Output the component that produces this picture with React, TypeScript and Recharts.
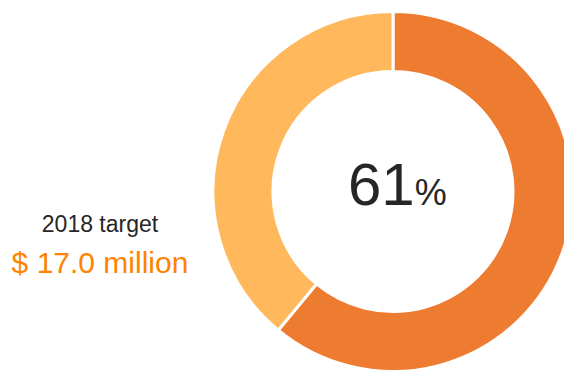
import React from 'react';
import { PieChart, Pie, Cell } from 'recharts';

const categories = ['Achieved', 'Remaining'];
const values = [61, 39];
const colors = ['#ED7B30', '#FFB85B'];
const targetLabel = '2018 target';
const targetValue = '$ 17.0 million';
const centerValue = '61';
const centerUnit = '%';

const data = categories.map((name, i) => ({ name, value: values[i] }));

export default function App() {
  const font = '"Liberation Sans", Arial, sans-serif';
  return (
    <PieChart width={572} height={370} margin={{ top: 0, right: 0, bottom: 0, left: 0 }}>
      <Pie
        data={data}
        dataKey="value"
        cx={385}
        cy={183.5}
        innerRadius={120}
        outerRadius={180}
        startAngle={90}
        endAngle={-270}
        stroke="#ffffff"
        strokeWidth={3}
        isAnimationActive={false}
      >
        {data.map((d, i) => (
          <Cell key={d.name} fill={colors[i]} />
        ))}
      </Pie>
      <text x={340} y={197} fontFamily={font} fill="#262626">
        <tspan fontSize={60}>{centerValue}</tspan>
        <tspan fontSize={36}>{centerUnit}</tspan>
      </text>
      <text x={92} y={224} textAnchor="middle" fontFamily={font} fontSize={23} fill="#262626">
        {targetLabel}
      </text>
      <text x={92} y={265} textAnchor="middle" fontFamily={font} fontSize={30} fill="#FF8300">
        {targetValue}
      </text>
    </PieChart>
  );
}
